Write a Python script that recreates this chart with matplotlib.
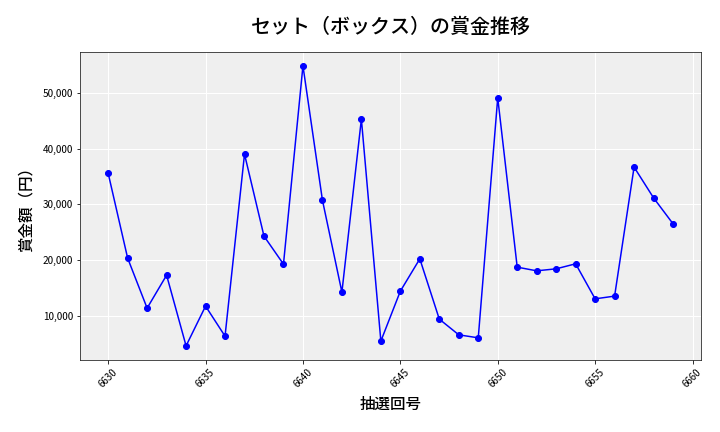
import matplotlib
matplotlib.use('Agg')
import matplotlib.pyplot as plt
from matplotlib.ticker import FuncFormatter

plt.rcParams['font.family'] = ['Noto Sans CJK JP', 'DejaVu Sans']

# 抽選回号 and prize amounts (yen)
draws = list(range(6630, 6660))
prizes = [35600, 20360, 11380, 17300, 4610, 11740, 6350, 39030, 24310, 19280,
          54880, 30770, 14250, 45310, 5460, 14430, 20230, 9410, 6590, 6050,
          49140, 18740, 18080, 18440, 19340, 13050, 13540, 36700, 31180, 26520]

fig, ax = plt.subplots(figsize=(10, 6), dpi=72)
ax.set_facecolor('#efefef')
ax.plot(draws, prizes, color='blue', marker='o', markersize=6, linewidth=1.5)

ax.grid(True, color='white', linewidth=1)
ax.set_axisbelow(True)
for s in ax.spines.values():
    s.set_color('#222222')

ax.yaxis.set_major_formatter(FuncFormatter(lambda v, p: f'{int(v):,}'))
ax.tick_params(axis='x', labelrotation=45, labelsize=10)
ax.tick_params(axis='y', labelsize=10)

ax.set_title('セット（ボックス）の賞金推移', fontsize=20, fontweight='medium', pad=19)
ax.set_xlabel('抽選回号', fontsize=15.5, fontweight='medium', labelpad=6)
ax.set_ylabel('賞金額（円）', fontsize=15.5, fontweight='medium', labelpad=8)

fig.subplots_adjust(left=0.111, right=0.974, top=0.88, bottom=0.167)
fig.savefig('out.png', dpi=72)
